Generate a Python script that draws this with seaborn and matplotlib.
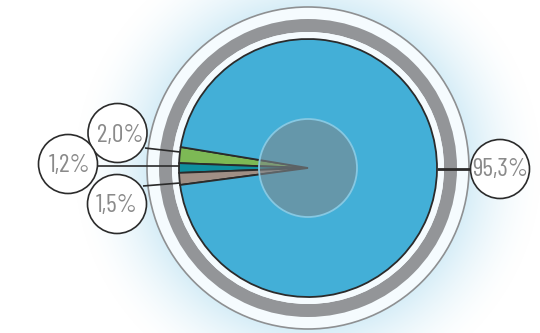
import numpy as np
import matplotlib
matplotlib.use("Agg")
import matplotlib.pyplot as plt
from matplotlib.patches import Circle, Wedge
import seaborn as sns

# Shares of the whole, in drawing order (small slices first)
labels = ["2,0%", "1,2%", "1,5%", "95,3%"]
shares = [2.0, 1.2, 1.5, 95.3]
slice_colors = ["#7db955", "#0f8f9f", "#a08f85", "#43afd7"]

sns.set_theme(style="white")
plt.rcParams["font.family"] = ["Barlow Condensed", "DejaVu Sans"]

W, H = 540, 333
fig = plt.figure(figsize=(W / 100, H / 100), dpi=100)
ax = fig.add_axes([0, 0, 1, 1])


def Y(py):
    """Convert a top-down pixel row to an upward data coordinate."""
    return H - py


cx, cy = 308, Y(168)
R = 129

# soft radial glow behind the disc
gx = np.arange(W) + 0.5
gy = np.arange(H) + 0.5
XX, YY = np.meshgrid(gx, gy)
dist = np.hypot(XX - cx, (H - YY) - cy)
t = np.clip((dist - 160) / (236 - 160), 0, 1)
a = (1 - t) ** 1.7
glow = np.ones((H, W, 4))
glow[..., 0] = 0.84
glow[..., 1] = 0.93
glow[..., 2] = 0.972
glow[..., 3] = a
ax.imshow(glow, extent=(0, W, 0, H), origin="upper", zorder=0, interpolation="bilinear")

# outer rings
ax.add_patch(Circle((cx, cy), 161, facecolor="#f5fbfe", edgecolor="#8e9092", lw=1.2, zorder=1))
ax.add_patch(Wedge((cx, cy), 149, 0, 360, width=13, facecolor="#939598", edgecolor="none", zorder=2))
ax.add_patch(Circle((cx, cy), 136, facecolor="#f5fbfe", edgecolor="none", zorder=2))

# pie, with the teal slice centred on the left horizontal
start = 180 - (shares[0] + shares[1] / 2) * 3.6
wedges, _ = ax.pie(shares, colors=slice_colors, startangle=start, counterclock=True,
                   center=(cx, cy), radius=R,
                   wedgeprops=dict(edgecolor="#2b2b2b", linewidth=1.3))
for w in wedges:
    w.set_zorder(3)

# translucent hub
ax.add_patch(Circle((cx, cy), 49, facecolor="#7d878c", alpha=0.6, edgecolor="none", zorder=4))
ax.add_patch(Circle((cx, cy), 49, facecolor="none", edgecolor="#86c8e2", lw=1.3, zorder=4))

# label bubbles and leader lines
bubbles = [(117.5, Y(133)), (68, Y(164)), (117, Y(204)), (500, Y(169))]
leaders = [
    [(145, Y(148)), (180, Y(152))],
    [(98, Y(166)), (180, Y(166))],
    [(143, Y(186)), (180, Y(183))],
    [(437, Y(169)), (470, Y(169))],
]
text_shift = [(3, -2), (2, -1), (0, -1), (0, -1)]
for i, (lab, (bx, by), seg) in enumerate(zip(labels, bubbles, leaders)):
    (x0, y0), (x1, y1) = seg
    ax.plot([x0, x1], [y0, y1], color="#2b2b2b", lw=2.0 if i == 3 else 1.2,
            zorder=5, solid_capstyle="butt")
    ax.add_patch(Circle((bx, by), 29.5, facecolor="white", edgecolor="#2b2b2b", lw=1.2, zorder=6))
    dx, dy = text_shift[i]
    ax.text(bx + dx, by + dy, lab, ha="center", va="center",
            fontsize=18.5, color="#8a8a8a", zorder=7)

ax.set_xlim(0, W)
ax.set_ylim(0, H)
ax.set_aspect("equal")
ax.axis("off")
fig.savefig("out.png", dpi=100, facecolor="white")
